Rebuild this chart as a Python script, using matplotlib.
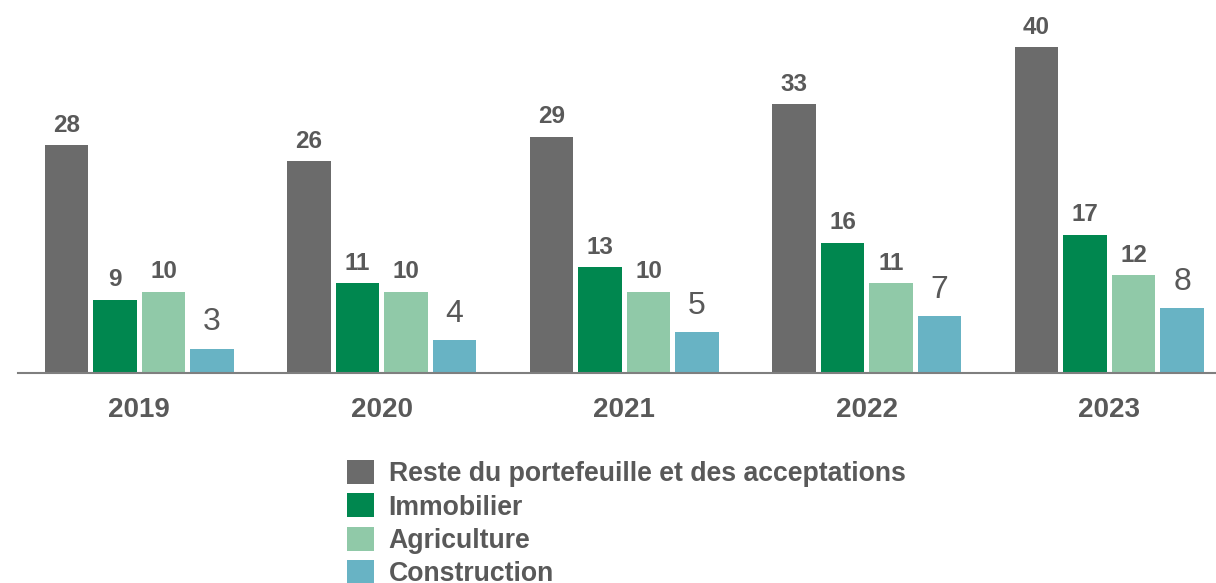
import matplotlib
matplotlib.use("Agg")
import matplotlib.pyplot as plt
import numpy as np
from matplotlib.patches import Patch

plt.rcParams['font.family'] = ['Liberation Sans', 'DejaVu Sans']

# data
years = ['2019', '2020', '2021', '2022', '2023']
series_names = ['Reste du portefeuille et des acceptations', 'Immobilier',
                'Agriculture', 'Construction']
reste = [28, 26, 29, 33, 40]
immobilier = [9, 11, 13, 16, 17]
agriculture = [10, 10, 10, 11, 12]
construction = [3, 4, 5, 7, 8]

colors = ['#6b6b6b', '#00874f', '#90c9a8', '#68b3c4']
text_col = '#595959'

fig = plt.figure(figsize=(12.16, 5.83), dpi=100)
ax = fig.add_axes([18 / 1216, 210 / 583, 1 - 18 / 1216, 373 / 583])

x = np.arange(len(years))
width = 0.18
offsets = [-0.3, -0.1, 0.1, 0.3]
all_series = [reste, immobilier, agriculture, construction]

for i, (vals, col) in enumerate(zip(all_series, colors)):
    bars = ax.bar(x + offsets[i], vals, width, color=col)
    for b, v in zip(bars, vals):
        cx = b.get_x() + b.get_width() / 2
        if i == 3:
            # construction labels are larger and not bold in the source
            ax.annotate(str(v), (cx, v), xytext=(0, 8), textcoords='offset points',
                        ha='center', va='bottom', fontsize=23, color=text_col)
        else:
            ax.annotate(str(v), (cx, v), xytext=(0, 6), textcoords='offset points',
                        ha='center', va='bottom', fontsize=17.5, fontweight='bold',
                        color=text_col)

ax.set_xlim(-0.5, 4.44)
ax.set_ylim(0, 45.8)
ax.set_xticks(x)
ax.set_xticklabels(years, fontsize=20, fontweight='bold', color=text_col)
ax.tick_params(axis='x', length=0, pad=17)
ax.set_yticks([])
for s in ['top', 'right', 'left']:
    ax.spines[s].set_visible(False)
ax.spines['bottom'].set_color('#7f7f7f')
ax.spines['bottom'].set_linewidth(1.5)

handles = [Patch(facecolor=c, edgecolor='none') for c in colors]
leg = fig.legend(handles, series_names, loc='upper left',
                 bbox_to_anchor=(347 / 1216, 1 - 460 / 583), frameon=False,
                 prop={'weight': 'bold', 'size': 19.2},
                 handlelength=1.0, handleheight=1.0, handletextpad=0.56,
                 labelspacing=0.24, borderpad=0, borderaxespad=0)
for t in leg.get_texts():
    t.set_color(text_col)

fig.savefig('out.png', dpi=100)
